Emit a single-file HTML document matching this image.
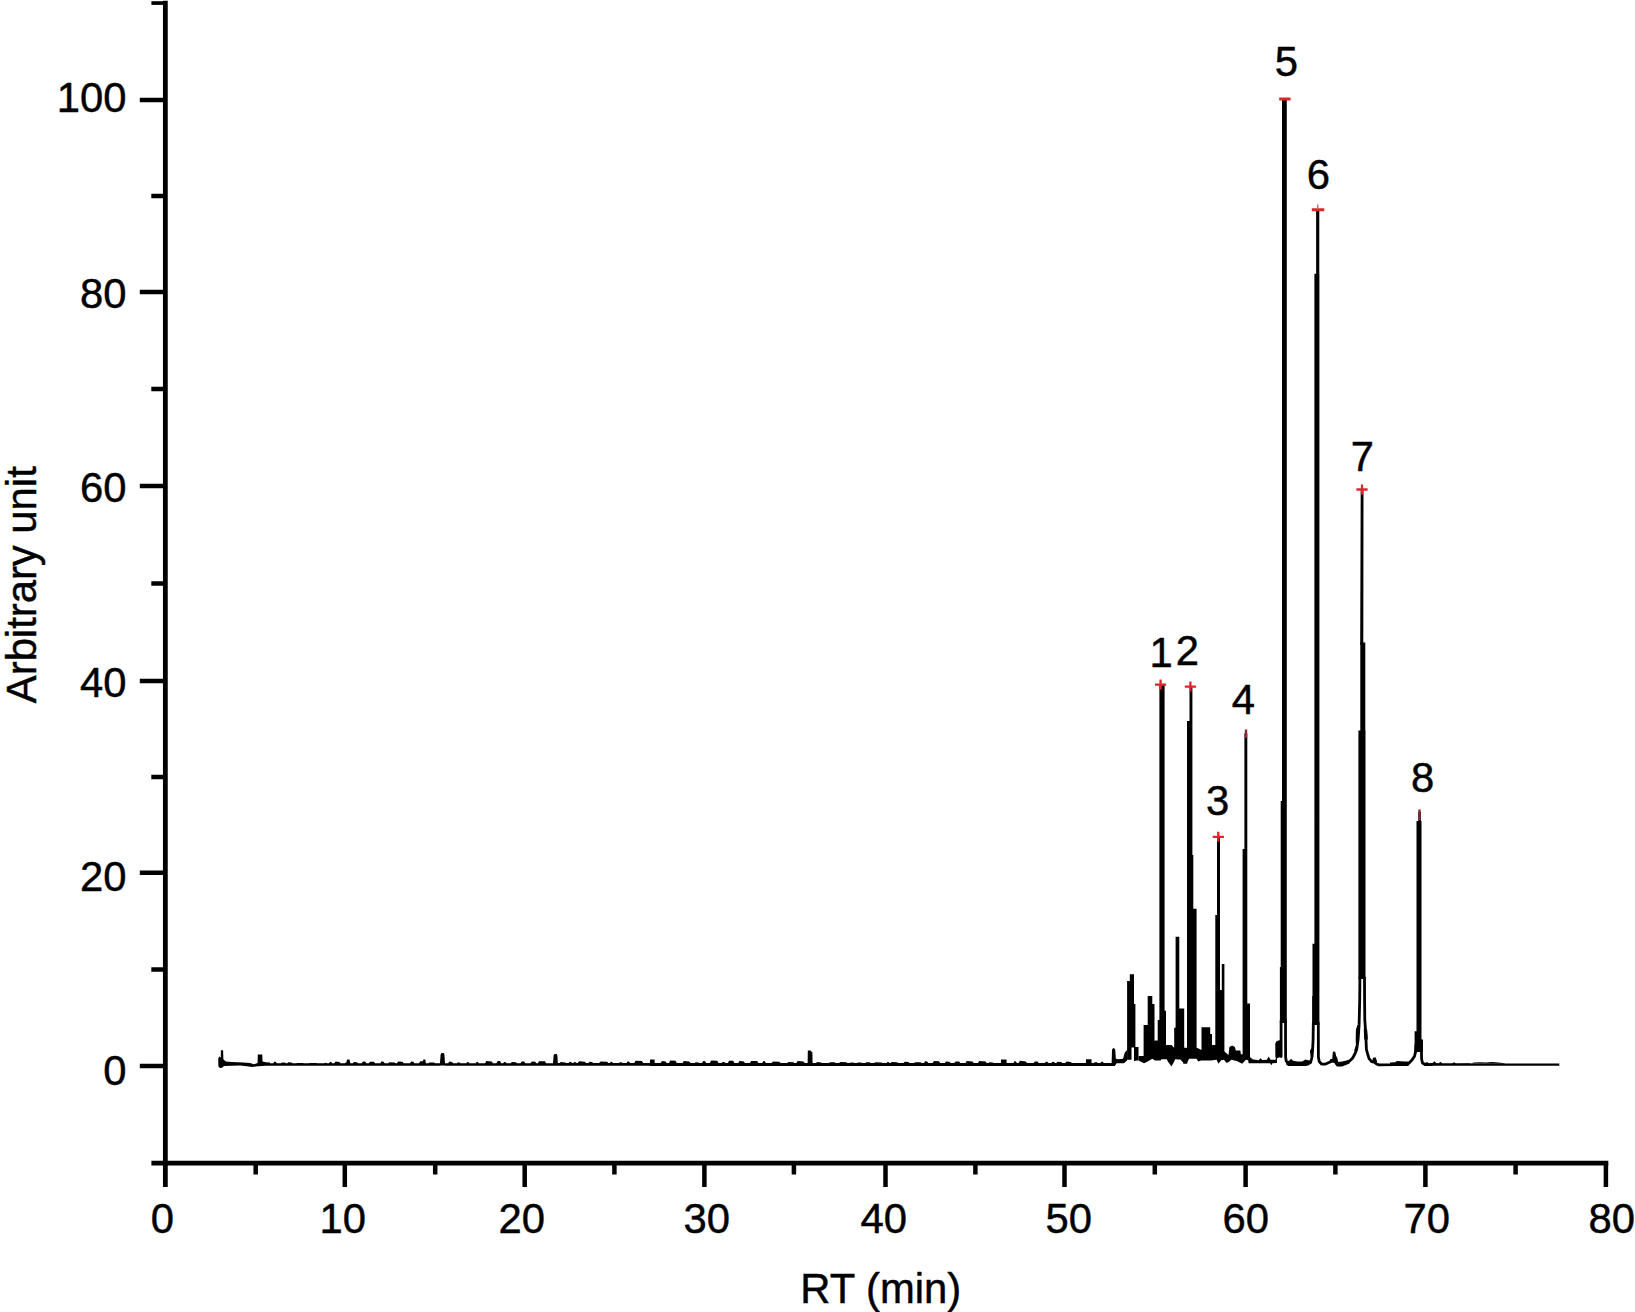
<!DOCTYPE html>
<html lang="en">
<head>
<meta charset="utf-8">
<title>Chromatogram</title>
<style>
html,body{margin:0;padding:0;background:#fff;}
body{width:1635px;height:1312px;overflow:hidden;font-family:"Liberation Sans",sans-serif;}
svg{display:block;}
</style>
</head>
<body>
<svg width="1635" height="1312" viewBox="0 0 1635 1312">
<rect width="1635" height="1312" fill="#fff"/>
<g stroke="#000" stroke-width="4.8" fill="none" stroke-linecap="butt">
<path d="M165.35 0.8V1187"/>
<path d="M151.4 1163.2H1608.3"/>
<path d="M139.8 1065.9H165.35M139.8 872.8H165.35M139.8 681.1H165.35M139.8 486.1H165.35M139.8 292.0H165.35M139.8 99.9H165.35M151.3 969.4H165.35M151.3 777.0H165.35M151.3 583.6H165.35M151.3 389.0H165.35M151.3 196.1H165.35M344.8 1163.2V1187M524.7 1163.2V1187M704.4 1163.2V1187M885.5 1163.2V1187M1064.5 1163.2V1187M1245.6 1163.2V1187M1425.4 1163.2V1187M1605.9 1163.2V1187M255.7 1163.2V1174.6M435.2 1163.2V1174.6M614.4 1163.2V1174.6M793.9 1163.2V1174.6M975.4 1163.2V1174.6M1154.8 1163.2V1174.6M1335.4 1163.2V1174.6M1515.6 1163.2V1174.6" stroke-width="4.5"/>
</g>
<path d="M151.4 1.2H165.35V4.9H151.4Z" fill="#000"/>
<g font-family="'Liberation Sans', sans-serif" font-size="41.8" fill="#000" stroke="#000" stroke-width="0.45" stroke-linejoin="round">
<g text-anchor="end">
<text x="126.6" y="1084.5">0</text>
<text x="126.6" y="890.8">20</text>
<text x="126.6" y="696.9">40</text>
<text x="126.6" y="501.9">60</text>
<text x="126.6" y="307.5">80</text>
<text x="126.6" y="112.4">100</text>
</g>
<g text-anchor="middle">
<text x="162.3" y="1233.2">0</text>
<text x="342.8" y="1233.2">10</text>
<text x="521.8" y="1233.2">20</text>
<text x="706.8" y="1233.2">30</text>
<text x="883.8" y="1233.2">40</text>
<text x="1068.8" y="1233.2">50</text>
<text x="1245.8" y="1233.2">60</text>
<text x="1426.7" y="1233.2">70</text>
<text x="1611.8" y="1233.2">80</text>
<text x="880.8" y="1302.8">RT (min)</text>
<text transform="translate(35.8 584.7) rotate(-90)">Arbitrary unit</text>
<text x="1161.2" y="666.8">1</text>
<text x="1187.3" y="664.8">2</text>
<text x="1217.6" y="815.4">3</text>
<text x="1243.4" y="713.7">4</text>
<text x="1286.3" y="76.1">5</text>
<text x="1318.4" y="188.8">6</text>
<text x="1362.3" y="470.5">7</text>
<text x="1422.6" y="792.2">8</text>
</g></g>
<g fill="#000" stroke="none">
<path d="M1127.1 981.0H1131.5V1059.7H1127.1ZM1129.8 974.2H1134.0V1047.5H1129.8ZM1134.0 1003.9H1135.4V1061.0H1134.0ZM1134.4 1047.0H1138.5V1060.6H1134.4ZM1143.6 1024.9H1147.7V1060.6H1143.6ZM1147.7 996.1H1152.3V1055.0H1147.7ZM1152.3 1003.9H1154.5V1055.0H1152.3ZM1157.7 1019.9H1160.0V1045.0H1157.7ZM1159.4 684.4H1164.6V1045.0H1159.4ZM1163.7 1010.8H1166.0V1045.0H1163.7ZM1174.2 1027.7H1176.0V1050.0H1174.2ZM1175.6 936.8H1179.3V1050.0H1175.6ZM1178.0 1008.5H1184.2V1050.0H1178.0ZM1189.5 686.3H1192.4V725.0H1189.5ZM1187.0 721.0H1192.4V1050.0H1187.0ZM1192.0 855.0H1193.3V1050.0H1192.0ZM1187.8 908.8H1196.6V1056.0H1187.8ZM1201.5 1027.2H1210.2V1058.0H1201.5ZM1210.0 1034.1H1212.0V1058.0H1210.0ZM1217.0 836.8H1220.0V920.0H1217.0ZM1215.3 914.9H1220.0V1058.0H1215.3ZM1219.0 990.0H1222.0V1058.0H1219.0ZM1221.8 964.0H1224.4V1058.0H1221.8ZM1244.4 733.2H1247.3V850.0H1244.4ZM1242.6 849.0H1247.3V1058.0H1242.6ZM1246.0 1003.5H1250.0V1058.0H1246.0ZM1282.0 99.3H1286.8V1023.0H1282.0ZM1280.7 801.0H1283.0V1023.0H1280.7ZM1279.9 967.0H1283.0V1023.0H1279.9ZM1316.1 210.2H1319.3V275.0H1316.1ZM1314.4 273.7H1319.4V1025.0H1314.4ZM1312.5 943.7H1316.0V1025.0H1312.5ZM1312.1 996.0H1315.0V1025.0H1312.1ZM1360.3 642.4H1365.3V735.0H1360.3ZM1358.4 730.6H1365.5V979.0H1358.4ZM1416.5 821.0H1421.5V1052.0H1416.5ZM1418.2 812.0H1420.9V822.0H1418.2ZM1414.6 1031.3H1417.0V1052.0H1414.6ZM1421.0 1039.6H1423.0V1052.0H1421.0ZM1430.0 1063.4H1559.3V1065.8H1430.0Z"/>
<path d="M218.4 1066.6L218.2 1058.5L219.4 1056.5L220.8 1057.5L220.9 1050.2L223.1 1050.2L223.4 1059.5L226 1061.6L232 1062L243 1062.4L250 1063L254 1064.2L257.6 1063L257.8 1054.4L262.3 1054.4L262.5 1061.5L266 1062.3L270 1062.5L270 1065.6L258 1066.2L252 1067L247 1066.3L240 1065.6L224 1066L222 1067.8L220 1068ZM270 1065.7L270 1063.2L273.4 1063.2L274.5 1061.58L275.9 1062.03L276.9 1063.2L281.1 1063.2L282.3 1062.39L284.8 1062.51L286 1063.2L287.2 1063.2L288.4 1062.37L291.4 1062.6L292.6 1063.2L296.1 1063.2L297.3 1063.03L302.8 1063.07L304 1063.2L308.7 1063.2L309.9 1062.91L316.2 1062.96L317.4 1063.2L324.3 1063.2L325.1 1062.84L326.2 1062.91L327.1 1063.2L328.9 1063.2L329.9 1062.04L331.2 1062.11L332.2 1063.2L334.3 1063.2L335.5 1061.59L339.4 1061.9L340.6 1063.2L344.8 1063.2L345.7 1062.38L346.9 1062.58L347.8 1063.2L352.8 1063.2L354 1062.04L356.9 1062.18L358.1 1063.2L361.8 1063.2L363 1061.38L365.1 1061.54L366.3 1063.2L368.8 1063.2L370 1061.75L373.8 1061.8L375 1063.2L380.4 1063.2L381.6 1061.13L383.5 1061.68L384.7 1063.2L388.2 1063.2L389.4 1062.26L394.5 1062.4L395.7 1063.2L396.9 1063.2L398.1 1061.42L402.5 1061.65L403.7 1063.2L410 1063.2L411.2 1061.52L413.3 1061.72L414.5 1063.2L419 1063.2L420.2 1061.32L423.3 1061.35L424.5 1063.2L428.3 1063.2L429.5 1062.38L433.9 1062.46L435.1 1063.2L440.4 1063.2L440.4 1065.7ZM346 1064L347 1059.4L349.5 1059.4L350.5 1064ZM422.5 1064L423.3 1059.6L425.3 1059.6L426 1064ZM439.8 1065.6L440.6 1054.5L441.6 1052.9L443.6 1052.9L444.4 1054.5L445.2 1065.6ZM445 1065.7L445 1063.2L448.2 1063.2L449.4 1061.4L452 1061.92L453.2 1063.2L457 1063.2L458.1 1062.22L459.5 1062.5L460.6 1063.2L466.2 1063.2L467.2 1062.02L468.5 1062.24L469.5 1063.2L475.8 1063.2L476.7 1061.72L477.9 1061.92L478.8 1063.2L485.1 1063.2L486.3 1061.1L491.7 1061.56L492.9 1063.2L496.4 1063.2L497.6 1061.07L500 1061.1L501.2 1063.2L503.1 1063.2L504.2 1062.05L505.7 1062.31L506.8 1063.2L510.7 1063.2L511.9 1062L515.8 1062.36L517 1063.2L520.5 1063.2L521.7 1061.55L524.2 1061.57L525.4 1063.2L530.6 1063.2L531.8 1061.47L535.2 1061.64L536.4 1063.2L537.8 1063.2L539 1061.23L544.9 1061.3L546.1 1063.2L553 1063.2L553 1065.7ZM552.8 1065.7L553.6 1055.5L554.4 1054.1L556.6 1054.1L557.4 1055.5L558 1065.7ZM557.6 1065.8L557.6 1063.1L559.7 1063.1L560.9 1062.12L565.1 1062.4L566.3 1063.1L568.6 1063.1L569.7 1061.67L571.1 1062.08L572.2 1063.1L573.2 1063.1L574.2 1062.06L575.6 1062.26L576.6 1063.1L577.8 1063.1L579 1061.23L584.8 1061.71L586 1063.1L588.5 1063.1L589.7 1061.63L592 1062.02L593.2 1063.1L599.3 1063.1L600.5 1061.47L607.1 1061.72L608.3 1063.1L609.8 1063.1L610.8 1061.67L612 1061.98L613 1063.1L618.9 1063.1L620 1062.19L621.4 1062.2L622.5 1063.1L626.7 1063.1L627.7 1061.34L629.1 1061.86L630.1 1063.1L634.3 1063.1L635.5 1060.82L641.9 1061.03L643.1 1063.1L650 1063.1L650 1065.8ZM649.8 1065.9L650 1059.5L654.6 1059.5L654.8 1065.9ZM654.6 1065.9L654.6 1063.1L660.7 1063.1L661.9 1060.96L665.5 1061.39L666.7 1063.1L669 1063.1L670.2 1060.62L675.6 1060.73L676.8 1063.1L682.6 1063.1L683.8 1061.02L689.3 1061.5L690.5 1063.1L694.6 1063.1L695.8 1062.18L698.2 1062.45L699.4 1063.1L702.1 1063.1L703.3 1061.1L705 1061.13L706.2 1063.1L709.9 1063.1L711.1 1060.62L717.3 1060.65L718.5 1063.1L721.7 1063.1L722.9 1061.86L724.5 1062.16L725.6 1063.1L727.9 1063.1L729.1 1060.76L733.2 1060.87L734.4 1063.1L738.3 1063.1L739.5 1060.93L743.8 1061.52L745 1063.1L750 1063.1L751.2 1060.95L757.2 1061.11L758.4 1063.1L762.3 1063.1L763.4 1060.94L764.8 1061.37L765.9 1063.1L771.7 1063.1L772.9 1061.58L779.4 1061.85L780.6 1063.1L787.2 1063.1L788.4 1061.95L793.3 1062.25L794.5 1063.1L796.4 1063.1L797.6 1060.91L803.5 1061.47L804.7 1063.1L807.8 1063.1L807.8 1065.9ZM807.6 1066L807.8 1050.6L810.5 1050.6L812.4 1052.5L812.6 1066ZM812.4 1065.9L812.4 1063.1L816 1063.1L817.2 1062.1L820.9 1062.4L822.1 1063.1L828.9 1063.1L830.1 1062.27L834.4 1062.29L835.6 1063.1L839.2 1063.1L840.4 1062.04L846.2 1062.29L847.4 1063.1L849.9 1063.1L851.1 1062.49L853.1 1062.57L854.3 1063.1L856.9 1063.1L858.1 1062.58L860.9 1062.59L862.1 1063.1L865.2 1063.1L866.4 1062.22L869.5 1062.25L870.7 1063.1L874.2 1063.1L875.4 1062.29L881.5 1062.4L882.7 1063.1L886.8 1063.1L887.6 1061.64L888.6 1062L889.4 1063.1L890.5 1063.1L891.7 1062.04L897 1062.21L898.2 1063.1L903.5 1063.1L904.7 1061.81L908.4 1061.99L909.6 1063.1L914 1063.1L915.2 1062.14L920.4 1062.26L921.6 1063.1L924 1063.1L925.2 1061.14L927.1 1061.43L928.3 1063.1L932.7 1063.1L933.9 1060.93L939 1061.29L940.2 1063.1L944.8 1063.1L946 1061.53L949.4 1061.67L950.6 1063.1L954.3 1063.1L955.5 1061.58L959.1 1061.61L960.3 1063.1L965.5 1063.1L966.7 1060.89L972.5 1061.38L973.7 1063.1L978 1063.1L979.2 1061.04L985.5 1061.57L986.7 1063.1L988.4 1063.1L989.6 1062.19L992.6 1062.39L993.8 1063.1L1001 1063.1L1001 1065.9ZM1000.8 1066L1001 1059.4L1006.5 1059.4L1006.7 1066ZM1006.5 1065.9L1006.5 1063.1L1013.4 1063.1L1014.4 1061.22L1015.8 1061.42L1016.9 1063.1L1018.7 1063.1L1019.9 1060.85L1025.8 1061.38L1027 1063.1L1033.7 1063.1L1034.9 1061.57L1037.6 1061.57L1038.8 1063.1L1044.8 1063.1L1045.8 1061.65L1047.3 1061.86L1048.3 1063.1L1051.4 1063.1L1052.5 1061.82L1054 1061.93L1055.1 1063.1L1056.3 1063.1L1057.5 1061.64L1061.2 1062.07L1062.4 1063.1L1065.3 1063.1L1066.5 1061.53L1070.7 1061.97L1071.9 1063.1L1086 1063.1L1086 1065.9ZM1085.8 1066L1086 1059.2L1091.5 1059.2L1091.7 1066ZM1091.5 1065.9L1091.5 1063L1093.6 1063L1094.8 1062.25L1096.7 1062.3L1097.9 1063L1100.5 1063L1101.5 1061.75L1102.8 1061.78L1103.8 1063L1112 1063L1112 1065.9ZM1111.56 1066.1L1112.01 1049.64L1113.39 1047.81L1115.21 1049.18L1115.85 1058.78L1118.42 1059.24L1122.99 1058.78L1124.82 1052.38L1127.11 1050.09L1127.11 1060.61L1123.9 1063.36L1116.59 1063.36L1114.76 1066.1ZM1138.54 1056.04L1144.03 1056.04L1147.68 1051.47L1154.54 1040.49L1157.75 1040.49L1165.98 1045.06L1171.47 1045.06L1174.21 1047.81L1184.27 1047.81L1187.93 1047.81L1196.16 1047.81L1196.92 1047.81L1201.49 1050.09L1212.01 1045.06L1215.67 1045.06L1224.36 1051.47L1228.48 1055.12L1229.39 1046.89L1232.14 1045.52L1234.88 1046.89L1235.79 1050.55L1240.37 1050.55L1240.83 1054.21L1243.11 1054.21L1249.97 1056.95L1253.17 1059.7L1253.17 1063.36L1248.6 1063.36L1248.14 1060.16L1245.86 1059.7L1242.2 1063.81L1236.71 1061.07L1231.22 1059.7L1229.39 1061.53L1226.65 1062.9L1223.9 1059.7L1221.16 1060.16L1218.42 1063.81L1216.59 1059.7L1211.1 1060.61L1206.53 1060.61L1201.04 1060.61L1198.29 1061.53L1196.46 1058.78L1189.15 1058.78L1187.32 1061.98L1184.57 1063.81L1182.74 1061.98L1180 1059.24L1196.16 1059.24L1188.39 1059.24L1187.02 1063.81L1183.36 1063.81L1182.44 1059.7L1175.12 1059.24L1174.21 1061.53L1171.47 1066.56L1167.81 1061.53L1166.89 1059.24L1161.4 1059.24L1160.49 1060.61L1155 1060.61L1152.26 1058.78L1147.68 1061.53L1144.03 1063.36L1138.54 1060.61ZM1252.26 1059.24L1258.66 1060.16L1260.49 1058.33L1262.32 1059.88L1266.89 1059.7L1268.72 1056.5L1270.55 1059.7L1275.58 1059.7L1276.04 1056.04L1276.95 1056.04L1276.95 1062.9L1272.38 1063.36L1271.47 1065.19L1270.09 1063.36L1252.26 1063.36ZM1275.38 1057.18L1275.28 1043.48L1276.36 1041.53L1278.32 1040.55L1281.35 1040.06L1281.35 1056.45L1277.34 1058.16ZM1286.88 1061.59L1289.57 1060.61L1291.04 1058.65L1292.99 1060.85L1297.4 1061.59L1302.29 1061.59L1305.23 1059.38L1307.18 1060.12L1309.63 1060.61L1311.59 1059.14L1311.59 1063.05L1309.14 1065.01L1306.2 1065.99L1288.59 1065.99L1286.39 1065.01ZM1309.87 1051.31L1311.1 1048.38L1313.05 1047.89L1313.05 1057.18L1311.1 1057.67ZM1330 1059.14L1332.94 1058.65L1334.4 1051.8L1335.38 1054.25L1337.34 1058.16L1338.32 1062.07L1342.23 1061.59L1349.57 1059.63L1349.57 1063.54L1342.23 1066.48L1336.85 1066.48L1334.4 1063.05L1330 1062.07ZM1354.71 1051.31L1356.66 1047.89L1358.86 1040.55L1358.86 1024.89L1357.4 1024.89L1355.93 1029.78L1355.68 1039.57L1355.93 1045.44L1354.22 1050.33ZM1360.7 490L1363.5 490L1363.3 645L1360.2 645ZM1363.76 1028.81L1367.18 1029.78L1367.92 1039.57L1364.25 1039.57ZM1372.07 1061.59L1373.05 1057.67L1375.5 1057.18L1376.97 1061.1L1376.97 1064.03ZM1390 1062.56L1395.38 1062.32L1396.85 1061.1L1404.68 1061.59L1408.59 1061.59L1408.59 1065.99L1390 1065.99ZM1423.76 1063.54L1427.18 1062.07L1429.14 1063.54L1432.56 1063.05L1434.28 1061.34L1436.48 1063.3L1438.92 1063.3L1440.39 1061.83L1442.35 1063.54L1452.13 1063.54L1454.09 1062.32L1456.05 1063.54L1469.99 1063.3L1469.99 1065.01L1423.76 1065.01ZM1470 1063.6L1474 1062.6L1480 1062.2L1486 1062.5L1492 1062L1498 1062.4L1503 1063L1506 1063.8Z" fill-rule="nonzero"/>
</g>
<g fill="none" stroke="#000" stroke-width="2.8" stroke-linejoin="round" stroke-linecap="round">
<path d="M1281.1 1021.0L1281.1 1056.5M1285.5 1021.0L1285.6 1057.0L1286.2 1061.0L1288.0 1063.4L1291.0 1063.8M1310.6 1062.5L1311.9 1057.5L1312.6 1050.0L1313.1 1040.0L1313.3 1023.0M1318.3 1023.0L1318.4 1057.0L1319.2 1061.5L1321.5 1064.0L1325.0 1064.2L1329.0 1062.5L1332.5 1060.5L1333.6 1059.5L1334.1 1053.0L1334.8 1059.5L1336.6 1063.8L1339.5 1064.8L1343.0 1064.0L1346.1 1062.8L1349.6 1061.1L1352.5 1058.2L1355.0 1053.8L1356.7 1049.4L1357.4 1044.5L1358.1 1039.6L1358.6 1032.2L1359.1 1024.9L1359.7 1000.0L1359.9 978.0M1364.5 978.0L1364.6 1000.0L1364.8 1020.0L1365.5 1029.8L1366.0 1039.6L1366.4 1049.4L1367.7 1054.2L1369.1 1058.7L1371.6 1061.6L1374.0 1062.0L1376.5 1064.0L1379.0 1064.8L1395.0 1064.6L1408.6 1063.5L1412.0 1060.1L1414.5 1056.2L1415.6 1051.8L1415.9 1045.0M1421.4 1050.0L1421.6 1059.0L1422.5 1063.0L1425.0 1064.5L1432.0 1064.6"/>
</g>
<path d="M1155.0 684.6H1166.2M1160.6 679.6V689.6M1184.8 686.6H1196.0M1190.4 681.6V691.6M1212.7 836.8H1223.9M1218.3 831.8V841.8M1356.4 489.5H1367.6M1362.0 484.5V494.5" stroke="#e0242e" stroke-width="2.3" fill="none"/><path d="M1279.2 99.1H1290.6M1311.8 209.7H1324.3" stroke="#d8282a" stroke-width="3" fill="none"/><path d="M1317.7 204.5V209" stroke="#e0606a" stroke-width="1.4" fill="none"/><path d="M1246 729.5V738M1419.5 809.5V820" stroke="#8a2a38" stroke-width="2.4" fill="none"/>
</svg>
</body>
</html>
